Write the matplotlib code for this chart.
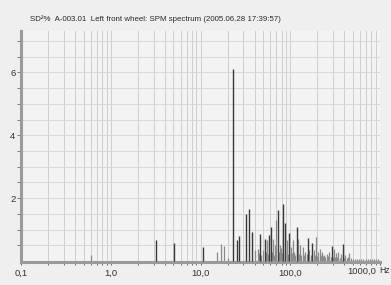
import matplotlib.pyplot as plt
from matplotlib.ticker import FixedLocator, NullFormatter
import matplotlib.transforms as mtransforms

# dark spectral lines (frequency Hz, SD %)
peaks_hz = [3.16, 5.1, 10.6, 22.9, 25.3, 27.1, 31.8, 34.7, 37.1, 46.0, 52.2,
            58.3, 61.0, 72.3, 83.0, 86.5, 95.8, 117.6, 156.0, 175.0, 289.0,
            384.0]
peaks_amp = [0.67, 0.58, 0.45, 6.1, 0.67, 0.79, 1.51, 1.67, 0.93, 0.85, 0.69,
             0.83, 1.07, 1.64, 1.83, 1.2, 0.88, 1.09, 0.72, 0.58, 0.48,
             0.54]

# lighter spectral lines
others_hz = [0.61, 15.2, 17.0, 18.3, 20.0, 40.1, 43.4, 49.8, 55.4, 64.2, 67.0,
             69.4, 76.0, 79.4, 91.0, 101.8, 107.0, 109.0, 121.9, 129.0, 137.0,
             147.0, 163.0, 182.0, 194.0, 206.0, 214.0, 226.0, 238.0, 255.0,
             273.0, 305.0, 324.0, 344.0, 368.0, 411.0, 441.0, 456.0, 480.0,
             505.0, 530.0, 560.0, 590.0, 620.0, 650.0, 690.0, 730.0, 770.0,
             810.0, 860.0, 910.0, 960.0, 44.5, 47.5, 53.5, 57.0, 62.5, 65.5,
             74.0, 81.0, 88.0, 93.5, 98.0, 104.0, 112.0, 125.0, 133.0, 142.0,
             152.0, 170.0, 188.0, 200.0, 220.0, 232.0, 247.0, 262.0, 282.0,
             297.0, 315.0, 335.0, 356.0, 398.0, 425.0]
others_amp = [0.2, 0.3, 0.54, 0.48, 0.1, 0.35, 0.38, 0.35, 0.67, 0.69, 0.51,
              1.32, 0.51, 0.40, 0.67, 0.45, 0.67, 0.30, 0.70, 0.51, 0.45,
              0.30, 0.35, 0.35, 0.77, 0.30, 0.38, 0.30, 0.19, 0.24,
              0.30, 0.37, 0.26, 0.30, 0.24, 0.19, 0.13, 0.26, 0.10,
              0.08, 0.07, 0.08, 0.06, 0.07, 0.06, 0.06, 0.05, 0.06,
              0.05, 0.05, 0.05, 0.05, 0.25, 0.2, 0.3, 0.22, 0.28, 0.2,
              0.3, 0.25, 0.3, 0.22, 0.2, 0.25, 0.2, 0.22, 0.18, 0.2,
              0.22, 0.18, 0.2, 0.15, 0.18, 0.15, 0.14, 0.15, 0.12,
              0.14, 0.12, 0.12, 0.1, 0.1, 0.09]

x_ticks = [0.1, 1.0, 10.0, 100.0, 1000.0]
x_labels = ['0,1', '1,0', '10,0', '100,0', '1000,0']
y_ticks = [2, 4, 6]

title = 'SD\u00b2%  A-003.01  Left front wheel: SPM spectrum (2005.06.28 17:39:57)'

plt.rcParams['font.family'] = ['Liberation Sans', 'DejaVu Sans']

fig = plt.figure(figsize=(3.91, 2.85), dpi=100, facecolor='#efefef')
ax = fig.add_axes([21 / 391, 1 - 262 / 285, 359 / 391, 231 / 285])
ax.set_facecolor('#f3f3f3')

ax.set_xscale('log')
ax.set_xlim(0.1, 1000)
ax.set_ylim(-0.03, 7.32)

# grid
minor = [m * 10.0 ** e for e in range(-1, 3) for m in range(1, 10)] + [1000.0]
for v in minor:
    ax.axvline(v, color='#c8c8c8', lw=0.6, zorder=1)
for k in range(1, 15):
    ax.axhline(k * 0.5, color='#d4d4d4', lw=0.6, zorder=1)

ax.vlines(others_hz, 0, others_amp, color='#8a8a8a', lw=0.9, zorder=2)
ax.vlines(peaks_hz, 0, peaks_amp, color='#3a3a3a', lw=1.0, zorder=3)

for s in ['top', 'right']:
    ax.spines[s].set_visible(False)
for s in ['left', 'bottom']:
    ax.spines[s].set_color('#9a9a9a')
    ax.spines[s].set_linewidth(2.2)

ax.xaxis.set_major_locator(FixedLocator(x_ticks))
ax.xaxis.set_minor_locator(FixedLocator(minor))
ax.xaxis.set_minor_formatter(NullFormatter())
ax.set_xticklabels(x_labels[:-1] + [''])
ax.tick_params(axis='x', which='both', length=2, width=0.6, color='#555555',
               labelsize=6.8, pad=3, labelcolor='#333333')

ax.yaxis.set_major_locator(FixedLocator(y_ticks))
ax.yaxis.set_minor_locator(FixedLocator([k * 0.5 for k in range(1, 15)]))
ax.tick_params(axis='y', which='both', length=3, width=0.6, color='#666666',
               labelsize=6.8, pad=1, labelcolor='#333333')

# last tick label shifted left to leave room for the unit
off = mtransforms.offset_copy(ax.get_xaxis_transform(), fig=fig, x=-4, y=-5,
                              units='dots')
ax.text(1000, 0, x_labels[-1], transform=off, ha='right', va='top',
        fontsize=6.8, color='#333333')
fig.text(379.5 / 391, 1 - 266 / 285, 'Hz', ha='left', va='top', fontsize=6.2,
         color='#333333')

fig.text(30 / 391, 1 - 19 / 285, title, fontsize=5.7, color='#2a2a2a',
         va='center', ha='left')

fig.savefig('out.png', dpi=100, facecolor=fig.get_facecolor())
